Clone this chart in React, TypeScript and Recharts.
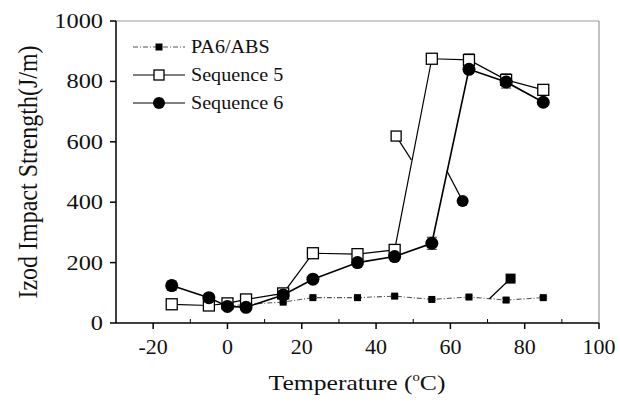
import { LineChart, Line, XAxis, YAxis, ReferenceLine, Legend, ErrorBar } from 'recharts';

const FONT = '"Liberation Serif", "Times New Roman", serif';

// measurement temperatures (°C)
const temps = [-15, -5, 0, 5, 15, 23, 35, 45, 55, 65, 75, 85];
const pa6Temps = [0, 5, 15, 23, 35, 45, 55, 65, 75, 85];

// Izod impact strength (J/m)
const pa6Values = [55, 62, 69, 84, 84, 89, 78, 86, 76, 84];
const pa6Errors = [3, 3, 3, 3, 3, 4, 3, 4, 6, 4];
const seq5Values = [62, 58, 65, 78, 98, 231, 228, 242, 875, 871, 805, 772];
const seq5Errors = [4, 4, 5, 5, 6, 8, 8, 15, 6, 20, 20, 10];
const seq6Values = [124, 84, 55, 52, 93, 145, 200, 220, 264, 840, 798, 731];
const seq6Errors = [15, 6, 10, 5, 6, 6, 6, 10, 20, 6, 20, 10];

// curve tags: marker first, then the point where its leader meets the curve
const pa6TagTemps = [76.2, 70.5];
const pa6TagValues = [147, 80];
const seq5TagTemps = [45.4, 49.5];
const seq5TagValues = [619, 540];
const seq6TagTemps = [63.3, 59];
const seq6TagValues = [404, 505];

const xTicks = [-20, 0, 20, 40, 60, 80, 100];
const xMinorTicks = [-10, 10, 30, 50, 70, 90];
const yTicks = [0, 200, 400, 600, 800, 1000];
const yMinorTicks = [100, 300, 500, 700, 900];

const toRows = (ts: number[], vs: number[], es?: number[]) =>
  ts.map((t, i) => ({ t, v: vs[i], err: es ? es[i] : 0 }));

const pa6Data = toRows(pa6Temps, pa6Values, pa6Errors);
const seq5Data = toRows(temps, seq5Values, seq5Errors);
const seq6Data = toRows(temps, seq6Values, seq6Errors);
const pa6Tag = toRows(pa6TagTemps, pa6TagValues);
const seq5Tag = toRows(seq5TagTemps, seq5TagValues);
const seq6Tag = toRows(seq6TagTemps, seq6TagValues);

type Shape = 'fsq' | 'osq' | 'circ';

function Marker({ cx, cy, shape, size }: { cx: number; cy: number; shape: Shape; size: number }) {
  const h = size / 2;
  if (shape === 'circ') return <circle cx={cx} cy={cy} r={h} fill="#000" />;
  if (shape === 'osq')
    return <rect x={cx - h} y={cy - h} width={size} height={size} fill="#fff" stroke="#000" strokeWidth={1.3} />;
  return <rect x={cx - h} y={cy - h} width={size} height={size} fill="#000" />;
}

const dotFn = (shape: Shape, size: number, firstOnly = false) => (p: any) => {
  if (firstOnly && p.index !== 0) return <g key={`e-${p.index}`} />;
  return (
    <g key={`d-${p.index}`}>
      <Marker cx={p.cx} cy={p.cy} shape={shape} size={size} />
    </g>
  );
};

const YTick = (p: any) => (
  <text
    transform={`translate(${p.x},${p.y}) scale(1.16,1)`}
    textAnchor="end"
    dominantBaseline="central"
    fontFamily={FONT}
    fontSize={21}
    fill="#111"
  >
    {p.payload.value}
  </text>
);

const XTick = (p: any) => (
  <text x={p.x} y={p.y + 16} textAnchor="middle" fontFamily={FONT} fontSize={22} fill="#111">
    {p.payload.value}
  </text>
);

const XTitle = () => (
  <text transform="translate(357,390) scale(1.22,1)" textAnchor="middle" fontFamily={FONT} fontSize={21} fill="#111">
    Temperature (<tspan fontSize={12} dy={-9}>o</tspan>
    <tspan dy={9}>C)</tspan>
  </text>
);

const YTitle = () => (
  <text
    transform="translate(28,172) scale(1.1,1) rotate(-90)"
    textAnchor="middle"
    dominantBaseline="central"
    fontFamily={FONT}
    fontSize={24}
    fill="#111"
  >
    Izod Impact Strength(J/m)
  </text>
);

const legendItems: { name: string; shape: Shape; size: number; dash?: string; color: string }[] = [
  { name: 'PA6/ABS', shape: 'fsq', size: 7, dash: '5 2 1 2', color: '#555' },
  { name: 'Sequence 5', shape: 'osq', size: 10, color: '#000' },
  { name: 'Sequence 6', shape: 'circ', size: 12, color: '#000' },
];

const renderLegend = () => (
  <svg width={200} height={90}>
    {legendItems.map((it, i) => {
      const y = 17 + i * 28;
      return (
        <g key={it.name}>
          <line x1={8} x2={60} y1={y} y2={y} stroke={it.color} strokeWidth={1.2} strokeDasharray={it.dash} />
          <Marker cx={34} cy={y} shape={it.shape} size={it.size} />
          <text
            transform={`translate(66,${y}) scale(1.06,1)`}
            dominantBaseline="central"
            fontFamily={FONT}
            fontSize={19}
            fill="#111"
          >
            {it.name}
          </text>
        </g>
      );
    })}
  </svg>
);

export default function App() {
  return (
    <div style={{ position: 'absolute', left: 0, top: 0, width: 620, height: 408, background: '#fff' }}>
      <LineChart width={620} height={408} margin={{ top: 21, right: 21, left: 0, bottom: 0 }}>
        <XAxis
          dataKey="t"
          type="number"
          domain={[-30, 100]}
          ticks={xTicks}
          allowDataOverflow
          height={85}
          stroke="#000"
          strokeWidth={1.5}
          tickSize={6}
          tickMargin={9}
          tick={XTick}
          label={{ content: XTitle }}
        />
        <XAxis
          xAxisId="minor"
          dataKey="t"
          type="number"
          domain={[-30, 100]}
          ticks={xMinorTicks}
          allowDataOverflow
          orientation="bottom"
          mirror
          axisLine={false}
          stroke="#000"
          tickSize={4}
          tickFormatter={() => ''}
        />
        <YAxis
          type="number"
          domain={[0, 1000]}
          ticks={yTicks}
          width={116}
          stroke="#000"
          strokeWidth={1.5}
          tickSize={6}
          tickMargin={7}
          tick={YTick}
          label={{ content: YTitle }}
        />
        <YAxis
          yAxisId="minor"
          type="number"
          domain={[0, 1000]}
          ticks={yMinorTicks}
          orientation="left"
          mirror
          axisLine={false}
          stroke="#000"
          tickSize={4}
          tickFormatter={() => ''}
        />
        <ReferenceLine y={1000} stroke="#999" strokeWidth={1.2} />
        <ReferenceLine x={100} stroke="#999" strokeWidth={1.2} />
        <Legend
          content={renderLegend}
          layout="vertical"
          align="center"
          verticalAlign="middle"
          wrapperStyle={{ left: 125, top: 30, width: 200, height: 90 }}
        />
        <Line
          data={pa6Data}
          dataKey="v"
          name="PA6/ABS"
          stroke="#555"
          strokeWidth={1.1}
          strokeDasharray="5 2 1 2"
          dot={dotFn('fsq', 7)}
          isAnimationActive={false}
        >
          <ErrorBar dataKey="err" width={4} stroke="#777" strokeWidth={1} />
        </Line>
        <Line
          data={pa6Tag}
          dataKey="v"
          name="pa6-tag"
          legendType="none"
          stroke="#000"
          strokeWidth={1.3}
          dot={dotFn('fsq', 10, true)}
          isAnimationActive={false}
        />
        <Line
          data={seq5Data}
          dataKey="v"
          name="Sequence 5"
          stroke="#000"
          strokeWidth={1.2}
          dot={dotFn('osq', 11)}
          isAnimationActive={false}
        >
          <ErrorBar dataKey="err" width={5} stroke="#333" strokeWidth={1} />
        </Line>
        <Line
          data={seq5Tag}
          dataKey="v"
          name="seq5-tag"
          legendType="none"
          stroke="#000"
          strokeWidth={1.2}
          dot={dotFn('osq', 10, true)}
          isAnimationActive={false}
        />
        <Line
          data={seq6Data}
          dataKey="v"
          name="Sequence 6"
          stroke="#000"
          strokeWidth={1.6}
          dot={dotFn('circ', 13)}
          isAnimationActive={false}
        >
          <ErrorBar dataKey="err" width={5} stroke="#333" strokeWidth={1} />
        </Line>
        <Line
          data={seq6Tag}
          dataKey="v"
          name="seq6-tag"
          legendType="none"
          stroke="#000"
          strokeWidth={1.3}
          dot={dotFn('circ', 12, true)}
          isAnimationActive={false}
        />
      </LineChart>
    </div>
  );
}
